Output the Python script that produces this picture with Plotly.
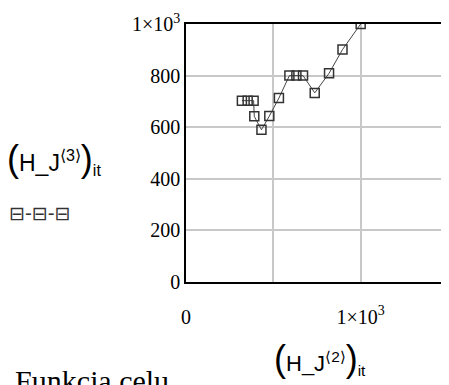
import plotly.graph_objects as go

# iteration path
h_j2 = [320, 353, 387, 391, 432, 477, 532, 592, 632, 670, 737, 819, 896, 1000]
h_j3 = [703, 703, 703, 642, 590, 643, 713, 800, 800, 800, 733, 809, 901, 1000]

x_ticks = [0, 500, 1000]
x_labels = ["0", "", "1×10<sup>3</sup>"]
y_ticks = [0, 200, 400, 600, 800, 1000]
y_labels = ["0", "200", "400", "600", "800", "1×10<sup>3</sup>"]

serif = "Liberation Serif"
sans = "Liberation Sans"

fig = go.Figure()
fig.add_trace(go.Scatter(
    x=h_j2, y=h_j3, mode="lines+markers",
    line=dict(color="#444444", width=1),
    marker=dict(symbol="square-open", size=9, color="#333333", line=dict(width=1.5, color="#333333")),
    showlegend=False,
))

axis_common = dict(
    showgrid=True, gridcolor="#c8c8c8", gridwidth=1.5,
    showline=True, linecolor="black", linewidth=1.5, mirror=True,
    zeroline=False, ticks="", automargin=False,
    tickfont=dict(family=serif, size=20, color="black"),
)

fig.update_xaxes(range=[0, 1500], tickmode="array", tickvals=x_ticks, ticktext=x_labels,
                 ticklabelstandoff=16, **axis_common)
fig.update_yaxes(range=[0, 1000], tickmode="array", tickvals=y_ticks, ticktext=y_labels,
                 ticklabelstandoff=0, **axis_common)

big = "<span style='font-size:36px'>"
fig.add_annotation(
    text=big + "(</span>H_J<sup>⟨3⟩</sup>" + big + ")</span><sub>it</sub>",
    xref="paper", yref="paper", x=-0.69, y=0.48, xanchor="left", yanchor="middle",
    showarrow=False, font=dict(family=sans, size=23, color="black"),
)
fig.add_annotation(
    text="⊟-⊟-⊟",
    xref="paper", yref="paper", x=-0.56, y=0.267, xanchor="center", yanchor="middle",
    showarrow=False, font=dict(family="DejaVu Sans", size=19, color="#333333"),
)
fig.add_annotation(
    text=big + "(</span>H_J<sup>⟨2⟩</sup>" + big + ")</span><sub>it</sub>",
    xref="paper", yref="paper", x=0.511, y=-0.295, xanchor="center", yanchor="middle",
    showarrow=False, font=dict(family=sans, size=22, color="black"),
)
fig.add_annotation(
    text="Funkcja celu",
    xref="paper", yref="paper", x=-0.66, y=-0.31, xanchor="left", yanchor="top",
    showarrow=False, font=dict(family=serif, size=30, color="black"),
)

# the page body has an 8px margin, so the figure is shrunk by that much
fig.update_layout(
    width=441, height=377,
    margin=dict(l=178, r=1, t=16, b=103),
    paper_bgcolor="white", plot_bgcolor="white",
)

fig.write_html("out.html")
